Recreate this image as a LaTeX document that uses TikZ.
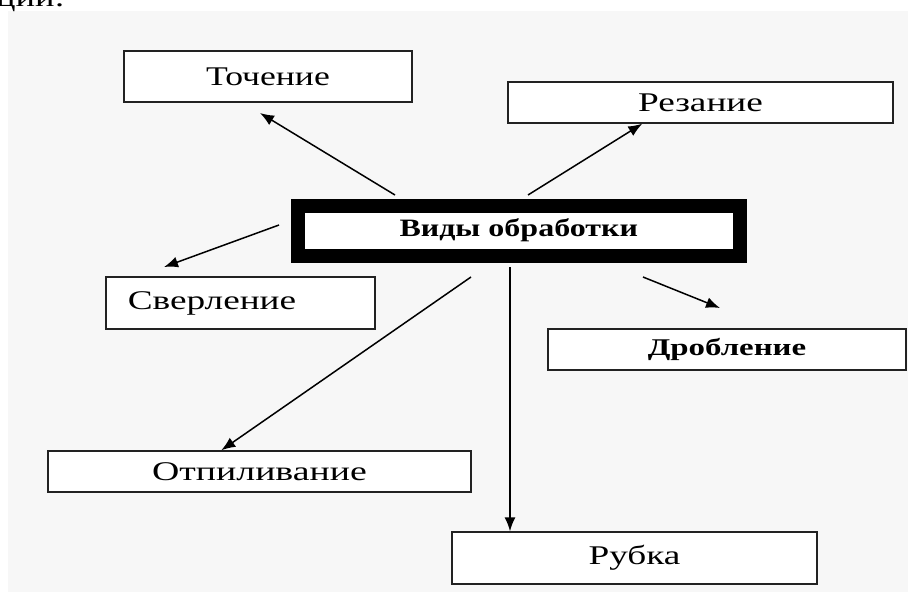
\documentclass[tikz,border=0pt]{standalone}
\usepackage{fontspec}
\setmainfont{Liberation Serif}
\usetikzlibrary{arrows.meta,calc}
\definecolor{bggray}{HTML}{F7F7F7}
\definecolor{edge}{HTML}{222222}
\newcommand{\wtxt}[2]{\scalebox{#1}[1]{#2}}
\tikzset{
  box/.style={draw=edge, line width=1.4pt, fill=white, inner sep=0pt, font=\fontsize{27}{30}\selectfont},
  boldbox/.style={box, font=\fontsize{24}{28}\selectfont\bfseries},
  arr/.style={line width=1.5pt, -{Latex[length=14pt,width=11pt]}},
  plain/.style={line width=1.4pt}
}
\begin{document}
\begin{tikzpicture}[x=1pt,y=-1pt]
\useasboundingbox (0,0) rectangle (908,592);
\fill[bggray] (8,11) rectangle (908,592);
\node[anchor=base west, font=\fontsize{27}{30}\selectfont, inner sep=0pt] (frag) at (-4,6) {\wtxt{1.35}{ции:}};

\node[box, minimum width=288pt, minimum height=51pt] (toch) at (268,76.5) {\wtxt{1.32}{Точение}};
\node[box, minimum width=385pt, minimum height=41pt] (rez) at (700.5,102.5) {\wtxt{1.38}{Резание}};
\node[box, minimum width=269pt, minimum height=52pt] (sver) at (240.5,303) {\wtxt{1.38}{Сверление}\hspace*{57pt}};
\node[boldbox, minimum width=358pt, minimum height=41pt] (drob) at (727,349.5) {\wtxt{1.37}{Дробление}};
\node[box, minimum width=423pt, minimum height=41pt] (otp) at (259.5,471.5) {\wtxt{1.4}{Отпиливание}};
\node[box, minimum width=365pt, minimum height=52pt] (rub) at (634.5,558) {\wtxt{1.38}{Рубка}};
\node[draw=black, line width=14pt, fill=white, inner sep=0pt, minimum width=441.5pt, minimum height=50pt, font=\fontsize{25}{28}\selectfont\bfseries] (main) at (518.75,230.5) {\wtxt{1.28}{Виды обработки}};

\coordinate (s1) at (395,195); \coordinate (t1) at (260,113);
\coordinate (s2) at (528,195); \coordinate (t2) at ($(rez.south west)+(135,0)$);
\coordinate (s3) at (279,225); \coordinate (t3) at (164,267);
\coordinate (s4) at (643,277); \coordinate (t4) at (720,308);
\coordinate (s5) at (471,277); \coordinate (t5) at ($(otp.north west)+(174,0)$);
\coordinate (s6) at (510,267); \coordinate (t6) at (rub.north west -| s6);

\draw[arr] (s1) -- (t1);
\draw[arr] (s2) -- (t2);
\draw[arr] (s3) -- (t3);
\draw[arr] (s4) -- (t4);
\draw[arr] (s5) -- (t5);
\draw[arr] (s6) -- (t6);
\end{tikzpicture}
\end{document}
